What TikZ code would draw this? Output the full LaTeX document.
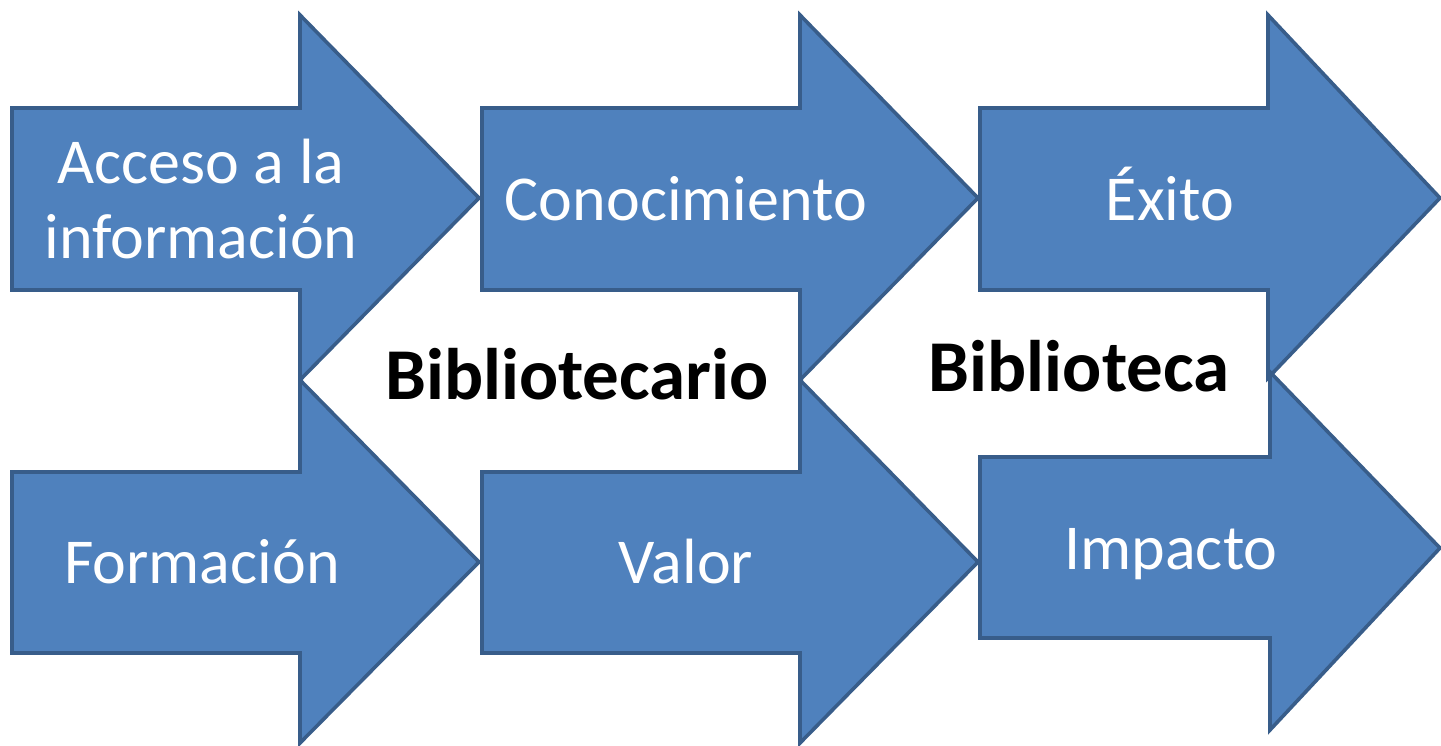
\documentclass[tikz,border=0pt]{standalone}
\usepackage{fontspec}
\setmainfont{Carlito}
\definecolor{arrowfill}{HTML}{4F81BD}
\definecolor{arrowline}{HTML}{385D8A}
\begin{document}
\begin{tikzpicture}[x=1pt,y=-1pt,
  arrowshape/.style={fill=arrowfill,draw=arrowline,line width=3.6pt,line join=miter},
  label/.style={text=white,inner sep=0pt,align=center,font=\fontsize{64}{76}\selectfont},
  biglabel/.style={text=black,inner sep=0pt,font=\fontsize{73}{88}\selectfont\bfseries}]
\useasboundingbox (0,0) rectangle (1441,746);
\fill[white] (0,0) rectangle (1441,746);
% top row arrows
\draw[arrowshape] (12,108) -- (300,108) -- (300,15) -- (479,198) -- (300,380) -- (300,290) -- (12,290) -- cycle;
\draw[arrowshape] (482,108) -- (800,108) -- (800,15) -- (978,198) -- (800,380) -- (800,290) -- (482,290) -- cycle;
\draw[arrowshape] (980,108) -- (1268,108) -- (1268,15) -- (1440,198) -- (1268,378) -- (1268,290) -- (980,290) -- cycle;
% bottom row arrows
\draw[arrowshape] (12,472) -- (300,472) -- (300,380) -- (479,562) -- (300,743) -- (300,653) -- (12,653) -- cycle;
\draw[arrowshape] (482,472) -- (800,472) -- (800,380) -- (978,562) -- (800,743) -- (800,653) -- (482,653) -- cycle;
\draw[arrowshape] (980,457) -- (1270,457) -- (1270,372) -- (1440,548) -- (1270,730) -- (1270,638) -- (980,638) -- cycle;
% labels
\node[label,anchor=base] (acceso) at (201,259) {Acceso a la\\información};
\node[label,anchor=base] (conoc) at (686,221) {Conocimiento};
\node[label,anchor=base] (exito) at (1170,221) {Éxito};
\node[label,anchor=base] (formacion) at (202,583) {Formación};
\node[label,anchor=base] (valor) at (686,583) {Valor};
\node[label,anchor=base] (impacto) at (1171,569) {Impacto};
\node[biglabel,anchor=base] (bibliotecario) at (577,399) {Bibliotecario};
\node[biglabel,anchor=base] (biblioteca) at (1079,391) {Biblioteca};
\end{tikzpicture}
\end{document}
